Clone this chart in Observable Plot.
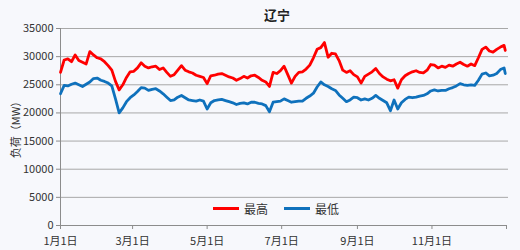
<!DOCTYPE html>
<html><head><meta charset="utf-8">
<script src="https://cdn.jsdelivr.net/npm/d3@7"></script>
<script src="https://cdn.jsdelivr.net/npm/@observablehq/plot@0.6"></script>
<style>
html,body{margin:0;padding:0;background:#f7f8fc;}
#wrap{position:relative;width:520px;height:250px;font-family:"Noto Sans CJK SC","Noto Sans",sans-serif;}
#title{position:absolute;left:247px;top:5px;width:60px;text-align:center;font-size:13px;font-weight:bold;color:#222;}
#legend{position:absolute;left:213px;top:200px;display:flex;align-items:center;font-size:12px;color:#333;}
.sw{display:inline-block;width:26px;height:3px;margin-right:5px;}
.it{display:flex;align-items:center;margin-right:16px;}
svg{display:block;}
</style></head>
<body><div id="wrap"><div id="title"></div><div id="legend"></div></div>
<script>
const title = "辽宁";
const yLabel = "负荷（MW）";
const seriesNames = ["最高", "最低"];
const seriesColors = ["#ff0000", "#0f71bc"];
const year = 2019;
const days = d3.range(0, 364, 3).concat([364]);
const high = [27200,29400,29600,29100,30300,29300,29000,28700,30900,30300,29800,29600,29100,28400,27600,25600,24100,25000,26300,27300,
27400,28000,28900,28300,28000,28200,28300,27700,28000,27200,26500,26800,27600,28400,27600,27300,27100,26700,26500,26300,
25200,26600,26700,26900,27000,26700,26400,26200,25800,26100,26500,26200,26600,26700,26300,25800,25500,24700,27200,27000,
27500,28300,26800,25300,26500,27200,27300,27800,28500,29800,31300,31600,32500,29900,30600,30500,29300,27600,27200,27500,
26800,26400,25300,26500,26900,27300,27900,27000,26400,26000,25700,25900,24400,25900,26600,27000,27300,27500,27200,27100,
27600,28600,28500,28000,28300,28100,28500,28300,28700,29000,28600,28300,28700,28400,29800,31300,31700,31000,30800,31300,
31700,32000,31100];
const low = [23400,24900,24800,25100,25300,25000,24700,25100,25500,26100,26200,25800,25600,25300,24800,22500,20000,20900,22000,22700,
23200,23800,24500,24400,24000,24200,24300,23900,23400,22800,22200,22300,22800,23100,22700,22300,22200,22100,22300,22100,
20700,21800,22200,22300,22400,22200,22000,21800,21500,21700,21800,21600,21900,21900,21700,21600,21300,20200,21900,22000,
22100,22500,22200,21900,22000,22100,22100,22600,23000,23500,24600,25500,25000,24700,24300,24000,23200,22600,22000,22300,
22800,22700,22300,22500,22300,22600,23100,22600,22200,21800,20400,22300,20700,21800,22400,22800,22700,22800,23000,23100,
23400,23900,24100,23900,24000,24000,24300,24500,24800,25200,25000,24900,25000,24900,25800,26900,27100,26600,26700,27000,
27700,28000,27000];
const yTicks = [0,5000,10000,15000,20000,25000,30000,35000];
const xTickMonths = [0,2,4,6,8,10,12];
const xTickLabels = ["1月1日","3月1日","5月1日","7月1日","9月1日","11月1日",""];

const dayDate = d => new Date(Date.UTC(year, 0, 1 + d));
const rows = [];
days.forEach((d, i) => {
  rows.push({date: dayDate(d), value: high[i], s: seriesNames[0]});
});
days.forEach((d, i) => {
  rows.push({date: dayDate(d), value: low[i], s: seriesNames[1]});
});
const xTicks = xTickMonths.map(m => new Date(Date.UTC(year, m, 1)));

document.getElementById("title").textContent = title;
const lg = document.getElementById("legend");
seriesNames.forEach((n, i) => {
  const it = document.createElement("span"); it.className = "it";
  const sw = document.createElement("span"); sw.className = "sw"; sw.style.background = seriesColors[i];
  it.appendChild(sw); it.appendChild(document.createTextNode(n));
  lg.appendChild(it);
});

const chart = Plot.plot({
  width: 520, height: 250,
  marginTop: 28, marginBottom: 25, marginLeft: 60, marginRight: 14,
  style: {background: "transparent", fontFamily: "'Noto Sans CJK SC','Noto Sans',sans-serif", fontSize: "11px", color: "#333"},
  x: {type: "utc", domain: [xTicks[0], xTicks[xTicks.length - 1]]},
  y: {domain: [0, 35000]},
  color: {domain: seriesNames, range: seriesColors},
  marks: [
    Plot.ruleY(yTicks.slice(1), {stroke: "#a8a8a8", strokeWidth: 1, insetRight: -2}),
    Plot.ruleY([0], {stroke: "#8c8c8c"}),
    Plot.ruleX([xTicks[0]], {stroke: "#8c8c8c"}),
    Plot.axisY({ticks: yTicks, tickSize: 4, tickPadding: 3, stroke: "#8c8c8c", tickFormat: d => String(d), label: yLabel, labelAnchor: "center", labelArrow: "none", labelOffset: 48, fontSize: 11}),
    Plot.axisX({ticks: xTicks, tickSize: 4, tickPadding: 8, stroke: "#8c8c8c", tickFormat: (d, i) => xTickLabels[i], label: null, fontSize: 11}),
    Plot.line(rows, {x: "date", y: "value", z: "s", stroke: "s", strokeWidth: 2.8, curve: "linear"})
  ]
});
document.getElementById("wrap").appendChild(chart);
</script></body></html>
